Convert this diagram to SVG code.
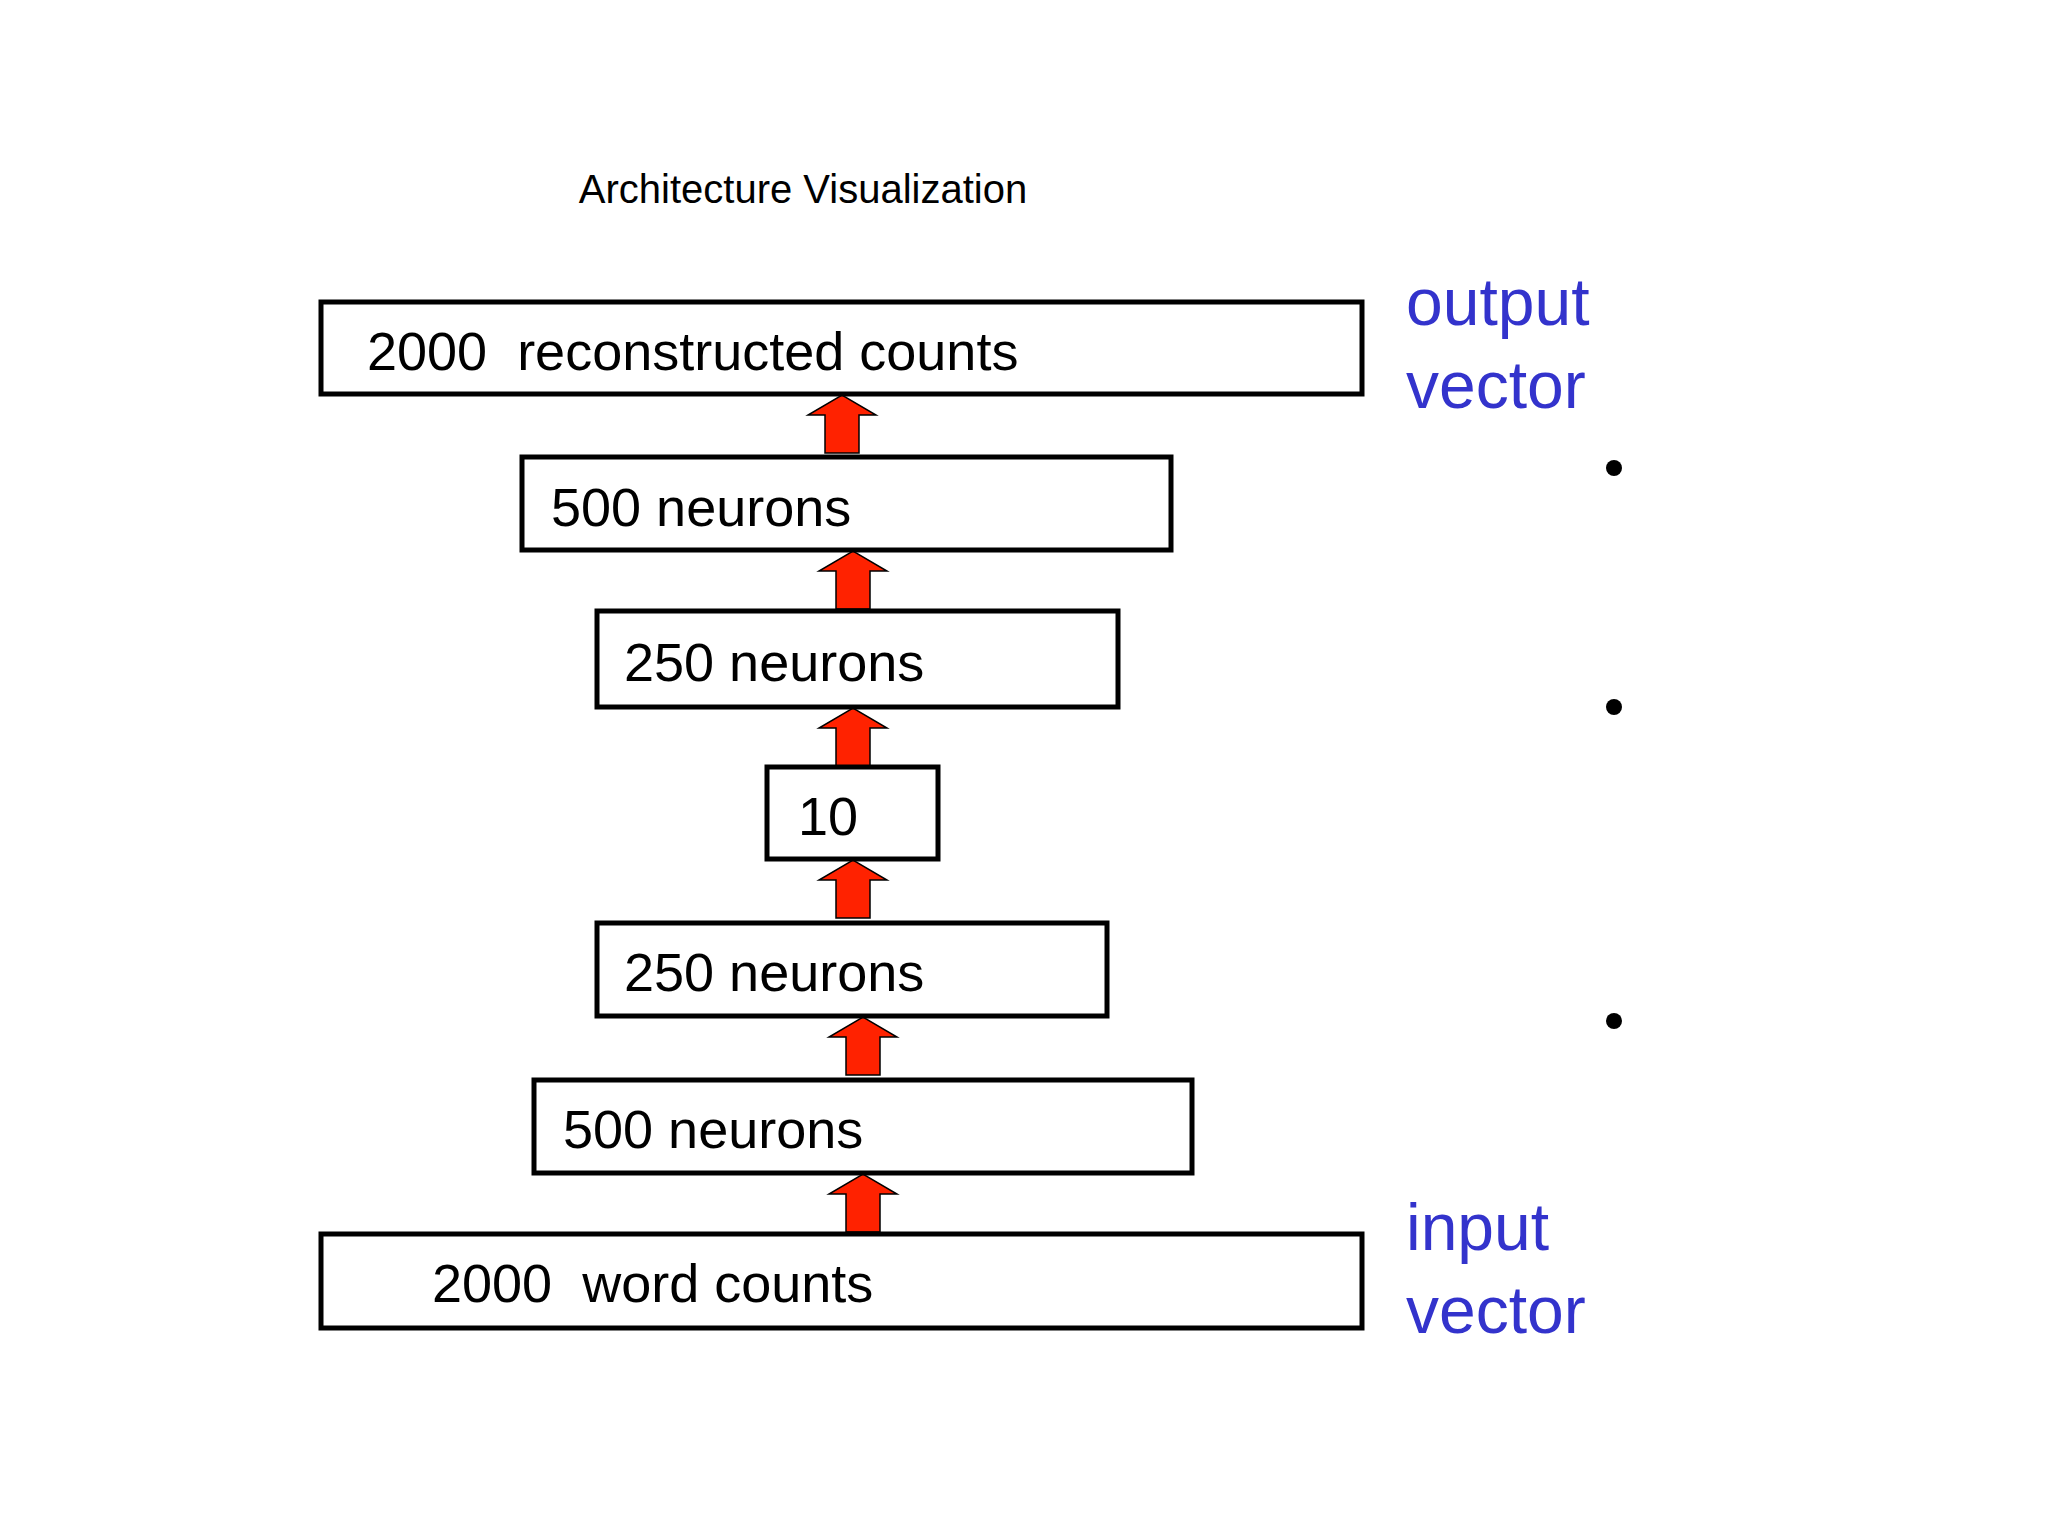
<svg xmlns="http://www.w3.org/2000/svg" width="2048" height="1535" viewBox="0 0 2048 1535">
<style>
.box{fill:#fff;stroke:#000;stroke-width:5}
.t{font-family:"Liberation Sans",Arial,sans-serif;font-size:54px;fill:#000}
.b{font-family:"Liberation Sans",Arial,sans-serif;font-size:66px;fill:#3333cc}
.arr{fill:#ff2200;stroke:#000;stroke-width:1.5}
</style>
<defs>
<path id="ar" class="arr" d="M-17,58 V20 H-34 L0,0 L34,20 H17 V58 Z"/>
</defs>
<rect width="2048" height="1535" fill="#fff"/>
<text x="803" y="203" text-anchor="middle" font-family="Liberation Sans, Arial, sans-serif" font-size="40">Architecture Visualization</text>
<g id="connectors">
<use href="#ar" x="842" y="395"/>
<use href="#ar" x="853" y="551"/>
<use href="#ar" x="853" y="708"/>
<use href="#ar" x="853" y="860"/>
<use href="#ar" x="863" y="1017"/>
<use href="#ar" x="863" y="1174"/>
</g>
<g id="n1"><rect class="box" x="321" y="302" width="1041" height="92"/><text class="t" x="367" y="370" xml:space="preserve">2000  reconstructed counts</text></g>
<g id="n2"><rect class="box" x="522" y="457" width="649" height="93"/><text class="t" x="551" y="526">500 neurons</text></g>
<g id="n3"><rect class="box" x="597" y="611" width="521" height="96"/><text class="t" x="624" y="681">250 neurons</text></g>
<g id="n4"><rect class="box" x="767" y="767" width="171" height="92"/><text class="t" x="798" y="835">10</text></g>
<g id="n5"><rect class="box" x="597" y="923" width="510" height="93"/><text class="t" x="624" y="991">250 neurons</text></g>
<g id="n6"><rect class="box" x="534" y="1080" width="658" height="93"/><text class="t" x="563" y="1148">500 neurons</text></g>
<g id="n7"><rect class="box" x="321" y="1234" width="1041" height="94"/><text class="t" x="432" y="1302" xml:space="preserve">2000  word counts</text></g>
<g id="labels">
<text class="b" x="1406" y="325">output</text>
<text class="b" x="1406" y="408">vector</text>
<text class="b" x="1406" y="1250">input</text>
<text class="b" x="1406" y="1333">vector</text>
<circle cx="1614" cy="468" r="8"/>
<circle cx="1614" cy="707" r="8"/>
<circle cx="1614" cy="1021" r="8"/>
</g>
</svg>
